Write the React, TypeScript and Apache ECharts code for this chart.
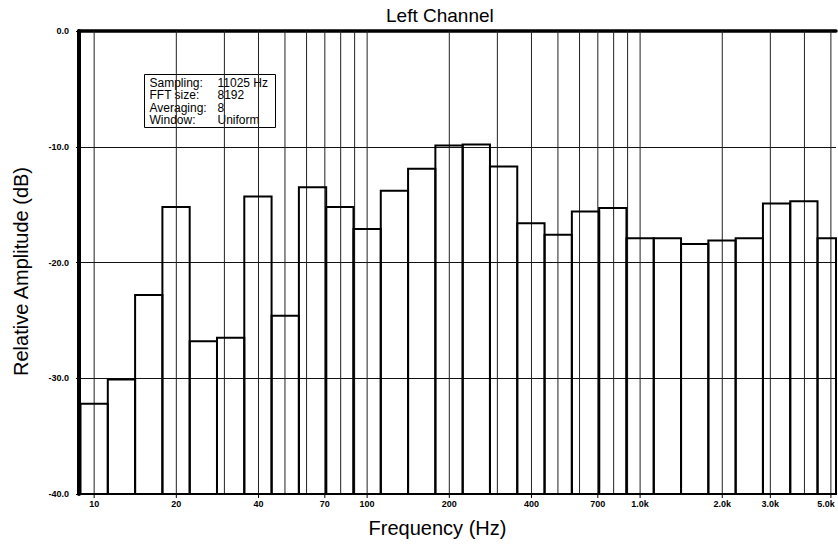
import React, { useEffect, useRef } from "react";
import * as echarts from "echarts";

const titleText = "Left Channel";
const xAxisName = "Frequency (Hz)";
const yAxisName = "Relative Amplitude (dB)";

// 1/3-octave band centre frequencies (Hz) and their levels (dB)
const bandCenters = [10, 12.5, 16, 20, 25, 31.5, 40, 50, 63, 80, 100, 125, 160, 200, 250, 315, 400, 500, 630, 800, 1000, 1250, 1600, 2000, 2500, 3150, 4000, 5000];
const bandLevels = [-32.2, -30.1, -22.8, -15.2, -26.8, -26.5, -14.3, -24.6, -13.5, -15.2, -17.1, -13.8, -11.9, -9.9, -9.8, -11.7, -16.6, -17.6, -15.6, -15.3, -17.9, -17.9, -18.4, -18.1, -17.9, -14.9, -14.7, -17.9];

// vertical log grid lines
const gridFreqs = [10, 20, 30, 40, 50, 60, 70, 80, 90, 100, 200, 300, 400, 500, 600, 700, 800, 900, 1000, 2000, 3000, 4000, 5000];
// x tick labels
const tickFreqs = [10, 20, 40, 70, 100, 200, 400, 700, 1000, 2000, 3000, 5000];
const tickLabels = ["10", "20", "40", "70", "100", "200", "400", "700", "1.0k", "2.0k", "3.0k", "5.0k"];

const infoKeys = ["Sampling:", "FFT size:", "Averaging:", "Window:"];
const infoValues = ["11025 Hz", "8192", "8", "Uniform"];

const X_MIN = 8.8;
const X_MAX = 5220;
const Y_MIN = -40;
const Y_MAX = 0;

const FONT = '"Liberation Sans", Arial, Helvetica, sans-serif';

export default function App() {
  const ref = useRef<HTMLDivElement>(null);

  useEffect(() => {
    document.body.style.margin = "0";
    const chart = echarts.init(ref.current as HTMLDivElement, undefined, { renderer: "svg" });

    const infoChildren: any[] = [
      { type: "rect", shape: { x: 0, y: 0, width: 131, height: 53 }, style: { fill: "#fff", stroke: "#000", lineWidth: 1 } },
    ];
    infoKeys.forEach((k, i) => {
      infoChildren.push({
        type: "text", x: 5, y: 8 + i * 12.5,
        style: { text: k, fill: "#000", fontSize: 12, lineHeight: 12, fontFamily: FONT, verticalAlign: "middle", align: "left" },
      });
      infoChildren.push({
        type: "text", x: 73, y: 8 + i * 12.5,
        style: { text: infoValues[i], fill: "#000", fontSize: 12, lineHeight: 12, fontFamily: FONT, verticalAlign: "middle", align: "left" },
      });
    });

    const option: any = {
      animation: false,
      backgroundColor: "#fff",
      title: {
        text: titleText,
        left: 386,
        top: 6,
        padding: 0,
        textStyle: { fontSize: 19, fontWeight: "normal", color: "#000", fontFamily: FONT },
      },
      grid: { left: 79, right: 2, top: 31, bottom: 51, containLabel: false },
      xAxis: [
        {
          type: "log",
          logBase: 10,
          min: X_MIN,
          max: X_MAX,
          position: "bottom",
          name: xAxisName,
          nameLocation: "middle",
          nameGap: 24,
          nameTextStyle: { fontSize: 20, color: "#000", fontFamily: FONT, padding: [0, 40, 0, 0] },
          axisLine: { show: true, lineStyle: { color: "#000", width: 1 } },
          axisTick: { show: false },
          axisLabel: { show: false },
          splitLine: { show: false },
          minorSplitLine: { show: false },
        },
        {
          type: "log",
          logBase: 10,
          min: X_MIN,
          max: X_MAX,
          position: "top",
          axisLine: { show: true, lineStyle: { color: "#000", width: 3.5 } },
          axisTick: { show: false },
          axisLabel: { show: false },
          splitLine: { show: false },
        },
      ],
      yAxis: {
        type: "value",
        min: Y_MIN,
        max: Y_MAX,
        interval: 10,
        name: yAxisName,
        nameLocation: "middle",
        nameGap: 48,
        nameTextStyle: { fontSize: 20, color: "#000", fontFamily: FONT, padding: [0, 18, 0, 0] },
        axisLine: { show: true, lineStyle: { color: "#000", width: 4 } },
        axisTick: { show: true, length: 3, lineStyle: { color: "#000", width: 1 } },
        axisLabel: {
          color: "#000",
          fontSize: 9,
          fontWeight: "bold",
          fontFamily: FONT,
          margin: 10,
          formatter: (v: number) => v.toFixed(1),
        },
        splitLine: { show: true, lineStyle: { color: "#111", width: 1 } },
      },
      series: [
        {
          type: "custom",
          name: "grid",
          xAxisIndex: 0,
          yAxisIndex: 0,
          clip: false,
          z: 1,
          silent: true,
          data: gridFreqs.map((f) => [f, Y_MIN]),
          renderItem: (params: any, api: any) => {
            const f = api.value(0);
            const top = api.coord([f, Y_MAX]);
            const bot = api.coord([f, Y_MIN]);
            return {
              type: "line",
              shape: { x1: top[0], y1: top[1], x2: bot[0], y2: bot[1] },
              style: { stroke: "#222", lineWidth: 1 },
            };
          },
        },
        {
          type: "custom",
          name: "Left Channel",
          xAxisIndex: 0,
          yAxisIndex: 0,
          clip: false,
          z: 3,
          data: bandCenters.map((f, i) => [f, bandLevels[i]]),
          renderItem: (params: any, api: any) => {
            const f = api.value(0);
            const v = api.value(1);
            const n = Math.round(10 * Math.log10(f));
            const lo = Math.max(Math.pow(10, (n - 0.5) / 10), X_MIN);
            const hi = Math.min(Math.pow(10, (n + 0.5) / 10), X_MAX);
            const p1 = api.coord([lo, v]);
            const p2 = api.coord([hi, Y_MIN]);
            return {
              type: "rect",
              shape: { x: p1[0], y: p1[1], width: p2[0] - p1[0], height: p2[1] - p1[1] },
              style: { fill: "none", stroke: "#000", lineWidth: 2 },
            };
          },
        },
        {
          type: "custom",
          name: "ticks",
          xAxisIndex: 0,
          yAxisIndex: 0,
          clip: false,
          z: 4,
          silent: true,
          data: tickFreqs.map((f) => [f, Y_MIN]),
          renderItem: (params: any, api: any) => {
            const f = api.value(0);
            const p = api.coord([f, Y_MIN]);
            const tx = Math.min(p[0], 826);
            return {
              type: "group",
              children: [
                { type: "line", shape: { x1: p[0], y1: p[1], x2: p[0], y2: p[1] + 4 }, style: { stroke: "#000", lineWidth: 1 } },
                {
                  type: "text",
                  x: tx,
                  y: p[1] + 10,
                  style: {
                    text: tickLabels[params.dataIndex],
                    fill: "#000",
                    fontSize: 9,
                    fontWeight: "bold",
                    fontFamily: FONT,
                    align: "center",
                    verticalAlign: "middle",
                  },
                },
              ],
            };
          },
        },
      ],
      graphic: [
        { type: "group", left: 144, top: 74, z: 100, children: infoChildren },
      ],
    };

    chart.setOption(option);
    return () => chart.dispose();
  }, []);

  return <div ref={ref} style={{ position: "absolute", left: 0, top: 0, width: 838, height: 545 }} />;
}
